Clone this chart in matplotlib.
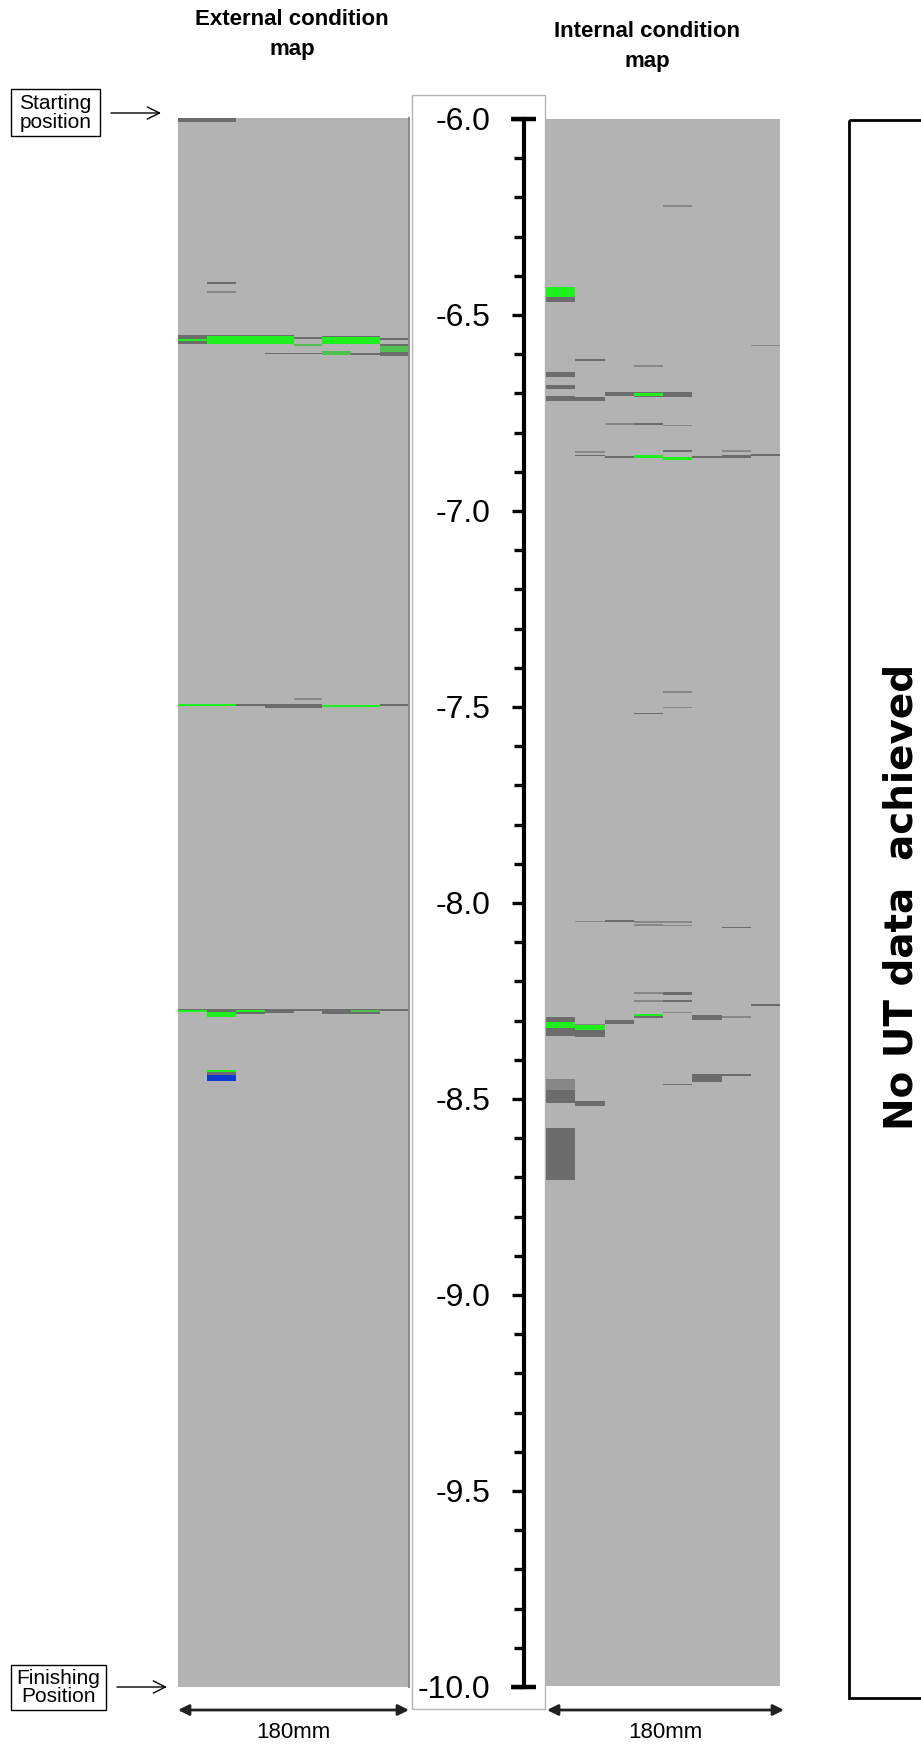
import numpy as np
import matplotlib
matplotlib.use("Agg")
import matplotlib.pyplot as plt
from matplotlib.patches import Rectangle

W, H = 921, 1745

# map strips: 8 strips of 22.5 mm across the 180 mm scan width
n_strips = 8
strip_mm = 22.5

# depth scale
scale_ticks = [-6.0, -6.5, -7.0, -7.5, -8.0, -8.5, -9.0, -9.5, -10.0]

# external condition map: (top depth, bottom depth, first strip, last strip)
ext_dark = [
    (-6.000, -6.010, 0, 1),
    (-6.419, -6.424, 1, 1),
    (-6.553, -6.576, 0, 0),
    (-6.553, -6.557, 1, 3),
    (-6.558, -6.564, 4, 4),
    (-6.555, -6.558, 5, 6),
    (-6.561, -6.566, 7, 7),
    (-6.598, -6.601, 3, 4),
    (-6.599, -6.603, 6, 6),
    (-6.577, -6.606, 7, 7),
    (-7.494, -7.499, 2, 2),
    (-7.495, -7.503, 3, 4),
    (-7.495, -7.500, 7, 7),
    (-8.272, -8.276, 0, 7),
    (-8.274, -8.278, 1, 1),
    (-8.279, -8.284, 2, 2),
    (-8.274, -8.282, 3, 3),
    (-8.274, -8.283, 5, 6),
    (-8.433, -8.440, 1, 1),
]
ext_mid = [
    (-6.441, -6.445, 1, 1),
    (-7.478, -7.484, 4, 4),
]
ext_green = [
    (-6.564, -6.569, 0, 0),
    (-6.557, -6.575, 1, 3),
    (-6.558, -6.575, 5, 6),
    (-7.495, -7.500, 0, 1),
    (-7.496, -7.501, 5, 6),
    (-8.273, -8.280, 0, 0),
    (-8.278, -8.292, 1, 1),
    (-8.274, -8.279, 2, 2),
    (-8.428, -8.433, 1, 1),
]
ext_dull_green = [
    (-6.575, -6.581, 4, 4),
    (-6.593, -6.604, 5, 5),
    (-6.582, -6.597, 7, 7),
    (-8.275, -8.279, 6, 6),
]
ext_blue = [
    (-8.440, -8.456, 1, 1),
]

# internal condition map
int_dark = [
    (-6.455, -6.466, 0, 0),
    (-6.612, -6.617, 1, 1),
    (-6.646, -6.659, 0, 0),
    (-6.680, -6.689, 0, 0),
    (-6.707, -6.719, 0, 0),
    (-6.710, -6.719, 1, 1),
    (-6.698, -6.706, 2, 2),
    (-6.698, -6.709, 3, 4),
    (-6.776, -6.780, 3, 3),
    (-6.846, -6.851, 4, 4),
    (-6.858, -6.861, 1, 1),
    (-6.860, -6.866, 2, 2),
    (-6.860, -6.866, 5, 5),
    (-6.857, -6.866, 6, 6),
    (-6.855, -6.861, 7, 7),
    (-7.516, -7.520, 3, 3),
    (-8.045, -8.050, 2, 2),
    (-8.063, -8.066, 6, 6),
    (-8.229, -8.235, 4, 4),
    (-8.249, -8.254, 4, 4),
    (-8.258, -8.263, 7, 7),
    (-8.284, -8.295, 3, 3),
    (-8.288, -8.301, 5, 5),
    (-8.292, -8.305, 0, 0),
    (-8.320, -8.341, 0, 0),
    (-8.326, -8.343, 1, 1),
    (-8.300, -8.311, 2, 2),
    (-8.439, -8.458, 5, 5),
    (-8.437, -8.442, 6, 6),
    (-8.463, -8.467, 4, 4),
    (-8.479, -8.513, 0, 0),
    (-8.507, -8.519, 1, 1),
    (-8.575, -8.709, 0, 0),
]
int_mid = [
    (-6.219, -6.224, 4, 4),
    (-6.577, -6.580, 7, 7),
    (-6.628, -6.633, 3, 3),
    (-6.714, -6.716, 4, 4),
    (-6.776, -6.780, 2, 2),
    (-6.781, -6.783, 4, 4),
    (-6.847, -6.853, 1, 1),
    (-6.846, -6.850, 6, 6),
    (-7.461, -7.464, 4, 4),
    (-7.501, -7.504, 4, 4),
    (-8.046, -8.050, 1, 1),
    (-8.048, -8.052, 3, 4),
    (-8.055, -8.061, 3, 3),
    (-8.058, -8.061, 4, 4),
    (-8.228, -8.234, 3, 3),
    (-8.249, -8.254, 3, 3),
    (-8.280, -8.283, 4, 4),
    (-8.291, -8.294, 6, 6),
    (-8.309, -8.313, 1, 1),
    (-8.450, -8.479, 0, 0),
]
int_green = [
    (-6.430, -6.455, 0, 0),
    (-6.700, -6.706, 3, 3),
    (-6.857, -6.866, 3, 3),
    (-6.862, -6.870, 4, 4),
    (-8.285, -8.291, 3, 3),
    (-8.305, -8.320, 0, 0),
    (-8.313, -8.326, 1, 1),
]

BG = "#b3b3b3"
DARK = "#6c6c6c"
MID = "#878787"
GREEN = "#1ef01e"
DULL_GREEN = "#4fbf4f"
BLUE = "#0a3ad0"

narrow = ["Liberation Sans Narrow", "Liberation Sans", "DejaVu Sans"]
plain = ["Liberation Sans", "DejaVu Sans"]


def draw_strips(ax, rows, color):
    for top, bot, c0, c1 in rows:
        ax.barh((top + bot) / 2, (c1 - c0 + 1) * strip_mm, height=top - bot,
                left=c0 * strip_mm, color=color, linewidth=0)


def box(x0, y0, x1, y1):
    # pixel box -> figure fraction rect
    return [x0 / W, 1 - y1 / H, (x1 - x0) / W, (y1 - y0) / H]


fig = plt.figure(figsize=(W / 100, H / 100), dpi=100)

# overlay in pixel coordinates for labels, boxes, arrows
ov = fig.add_axes([0, 0, 1, 1])
ov.set_xlim(0, W)
ov.set_ylim(H, 0)
ov.axis("off")

ov.add_patch(Rectangle((412, 95), 133, 1614, fc="white", ec="#b4b4b4", lw=1))
ov.add_patch(Rectangle((849, 120), 150, 1578, fc="none", ec="black", lw=2))
ov.text(901, 897, "No UT data  achieved", rotation=90, ha="center", va="center",
        fontsize=28, fontweight="bold", family=["DejaVu Sans"])

ov.text(292, 19, "External condition", ha="center", va="center",
        fontsize=16, fontweight="bold", family=narrow)
ov.text(292, 49, "map", ha="center", va="center",
        fontsize=16, fontweight="bold", family=narrow)
ov.text(647, 31, "Internal condition", ha="center", va="center",
        fontsize=16, fontweight="bold", family=narrow)
ov.text(647, 61, "map", ha="center", va="center",
        fontsize=16, fontweight="bold", family=narrow)

ov.add_patch(Rectangle((11, 89), 89, 47, fc="white", ec="black", lw=1))
ov.text(55.5, 112.5, "Starting\nposition", ha="center", va="center",
        fontsize=15, family=narrow, linespacing=1.0)
ov.annotate("", xy=(161, 113), xytext=(111, 113),
            arrowprops=dict(arrowstyle="->", lw=1, color="black",
                            mutation_scale=22, shrinkA=0, shrinkB=0))

ov.add_patch(Rectangle((11, 1665), 95, 45, fc="white", ec="black", lw=1))
ov.text(58.5, 1687.5, "Finishing\nPosition", ha="center", va="center",
        fontsize=15, family=narrow, linespacing=1.0)
ov.annotate("", xy=(167, 1687), xytext=(117, 1687),
            arrowprops=dict(arrowstyle="->", lw=1, color="black",
                            mutation_scale=22, shrinkA=0, shrinkB=0))

for x0, x1 in [(178, 409), (547, 784)]:
    ov.annotate("", xy=(x1, 1710), xytext=(x0, 1710),
                arrowprops=dict(arrowstyle="<|-|>", lw=2, color="#222222",
                                mutation_scale=16, shrinkA=0, shrinkB=0))
    ov.text((x0 + x1) / 2, 1733, "180mm", ha="center", va="center",
            fontsize=16, family=narrow)

# condition maps
ax_ext = fig.add_axes(box(178, 118, 409, 1687))
ax_int = fig.add_axes(box(546, 119, 780, 1686))
for ax in (ax_ext, ax_int):
    ax.set_facecolor(BG)
    ax.set_xlim(0, n_strips * strip_mm)
    ax.set_ylim(scale_ticks[-1], scale_ticks[0])
    ax.set_xticks([])
    ax.set_yticks([])
    for s in ax.spines.values():
        s.set_visible(False)
ax_ext.spines["right"].set_visible(True)
ax_ext.spines["right"].set_color("#8a8a8a")
ax_ext.spines["right"].set_linewidth(1.5)

draw_strips(ax_ext, ext_dark, DARK)
draw_strips(ax_ext, ext_mid, MID)
draw_strips(ax_ext, ext_green, GREEN)
draw_strips(ax_ext, ext_dull_green, DULL_GREEN)
draw_strips(ax_ext, ext_blue, BLUE)

draw_strips(ax_int, int_dark, DARK)
draw_strips(ax_int, int_mid, MID)
draw_strips(ax_int, int_green, GREEN)

# depth scale
ax_s = fig.add_axes(box(524, 119, 544, 1687))
ax_s.patch.set_visible(False)
ax_s.set_ylim(scale_ticks[-1], scale_ticks[0])
ax_s.set_xlim(0, 1)
ax_s.set_xticks([])
for side in ("top", "right", "bottom"):
    ax_s.spines[side].set_visible(False)
ax_s.spines["left"].set_linewidth(3)
ax_s.set_yticks(scale_ticks)
ax_s.set_yticklabels([f"{v:.1f}" for v in scale_ticks], family=plain)
ax_s.set_yticks(np.arange(-10, -5.95, 0.1), minor=True)
ax_s.tick_params(axis="y", which="major", length=9, width=2.4,
                 labelsize=23, pad=15)
ax_s.tick_params(axis="y", which="minor", length=7, width=2.4)
for v in (scale_ticks[0], scale_ticks[-1]):
    ax_s.plot([-0.65, 0.6], [v, v], transform=ax_s.get_yaxis_transform(),
              color="black", lw=3.2, clip_on=False, solid_capstyle="butt")

fig.savefig("out.png", dpi=100)
